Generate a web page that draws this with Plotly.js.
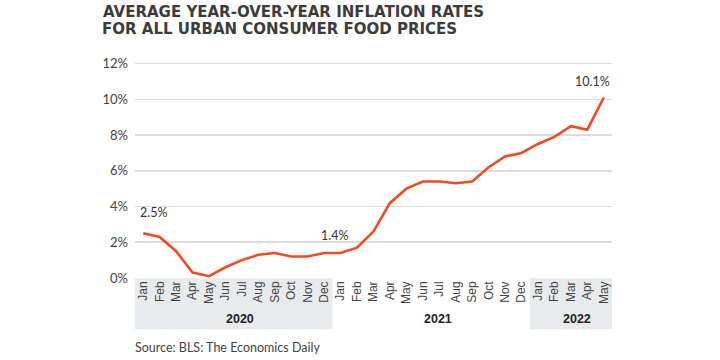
<!DOCTYPE html>
<html>
<head>
<meta charset="utf-8">
<script src="https://cdn.plot.ly/plotly-3.0.1.min.js"></script>
<style>html,body{margin:0;padding:0;background:#fff;}#chart{width:720px;height:360px;}</style>
</head>
<body>
<div id="chart"></div>
<script>
// ---- data ----
const months = ["Jan","Feb","Mar","Apr","May","Jun","Jul","Aug","Sep","Oct","Nov","Dec",
                "Jan","Feb","Mar","Apr","May","Jun","Jul","Aug","Sep","Oct","Nov","Dec",
                "Jan","Feb","Mar","Apr","May"];
const years = ["2020","2021","2022"];
const yearStart = [0, 12, 24];   // index of first month of each year
const yearEnd = [11, 23, 28];    // index of last month of each year
const shadedYears = ["2020","2022"];
const inflation = [2.5, 2.3, 1.5, 0.3, 0.1, 0.6, 1.0, 1.3, 1.4, 1.2, 1.2, 1.4,
                   1.4, 1.7, 2.6, 4.2, 5.0, 5.4, 5.4, 5.3, 5.4, 6.2, 6.8, 7.0,
                   7.5, 7.9, 8.5, 8.3, 10.1];
const labelledPoints = [0, 11, 28];
const yTicks = [0, 2, 4, 6, 8, 10, 12];

// ---- chart ----
const idx = inflation.map((_, i) => i);
const W = 720, H = 360, M = {l: 135, r: 108, t: 60, b: 82};
const plotH = H - M.t - M.b;
const py = p => (H - M.b - p) / plotH;   // pixel row -> paper y

const traces = [{
  x: idx, y: inflation, type: "scatter", mode: "lines",
  line: {color: "#f04b24", width: 2.6},
  hoverinfo: "skip", yaxis: "y2"
}, {
  x: idx, y: inflation, type: "scatter", mode: "none",
  hoverinfo: "skip", showlegend: false
}];

const shapes = [];
years.forEach((yr, k) => {
  if (shadedYears.includes(yr)) {
    shapes.push({type: "rect", xref: "x", yref: "paper",
      x0: yearStart[k] - 0.5, x1: yearEnd[k] + 0.5, y0: py(329.3), y1: 0,
      fillcolor: "#e8ebee", line: {width: 0}, layer: "below"});
  }
});

const labelShift = {0: [10, 21], 11: [10, 17], 28: [-11, 16]};
const annotations = [];
labelledPoints.forEach(i => {
  annotations.push({x: i, y: inflation[i], xref: "x", yref: "y",
    text: inflation[i].toFixed(1) + "%", showarrow: false,
    xshift: labelShift[i][0], yshift: labelShift[i][1],
    font: {family: "Lato, sans-serif", size: 12.5, color: "#333"}});
});
years.forEach((yr, k) => {
  annotations.push({x: (yearStart[k] + yearEnd[k]) / 2 + 0.4, y: py(319), xref: "x", yref: "paper",
    text: "<b>" + yr + "</b>", showarrow: false, yanchor: "middle",
    font: {family: "Liberation Sans, Arial, sans-serif", size: 12.5, color: "#222"}});
});
annotations.push({x: 0, y: py(347.7), xref: "paper", yref: "paper", xanchor: "left", yanchor: "middle",
  xshift: -2, text: "Source: BLS: The Economics Daily", showarrow: false,
  font: {family: "Lato, sans-serif", size: 12.5, color: "#444"}});
annotations.push({x: (103 - M.l) / (W - M.l - M.r), y: py(29), xref: "paper", yref: "paper",
  xanchor: "left", yanchor: "middle", xshift: -3,
  text: "<b>FOR ALL URBAN CONSUMER FOOD PRICES</b>", showarrow: false,
  font: {family: "DejaVu Sans, sans-serif", size: 15, color: "#3c3c3c"}});

const layout = {
  width: W, height: H, margin: M,
  paper_bgcolor: "#fff", plot_bgcolor: "rgba(0,0,0,0)",
  showlegend: false,
  title: {text: "<b>AVERAGE YEAR-OVER-YEAR INFLATION RATES</b>", xref: "container", yref: "container",
    x: 103 / W, xanchor: "left", y: 1 - 11.5 / H, yanchor: "middle",
    font: {family: "DejaVu Sans, sans-serif", size: 15, color: "#3c3c3c"}},
  xaxis: {range: [-0.5, 28.5], tickvals: idx, ticktext: months, tickangle: -90,
    showgrid: false, zeroline: false, showline: false, ticks: "",
    tickfont: {family: "Liberation Sans, Arial, sans-serif", size: 12, color: "#444"},
    fixedrange: true},
  yaxis: {range: [0, 12.2], tickvals: yTicks, ticktext: yTicks.map(v => v + "%"),
    showgrid: false, zeroline: false, showline: false, ticks: "", ticklabelstandoff: 6,
    tickfont: {family: "Lato, sans-serif", size: 13, color: "#444"}, fixedrange: true},
  yaxis2: {range: [0, 12.2], overlaying: "y", tickvals: yTicks.filter(v => v > 0),
    showticklabels: false, showgrid: true, gridcolor: "#dcdcdc", gridwidth: 1.6,
    zeroline: false, showline: false, ticks: "", fixedrange: true},
  shapes: shapes, annotations: annotations
};

Plotly.newPlot("chart", traces, layout, {displayModeBar: false, staticPlot: true});
</script>
</body>
</html>
